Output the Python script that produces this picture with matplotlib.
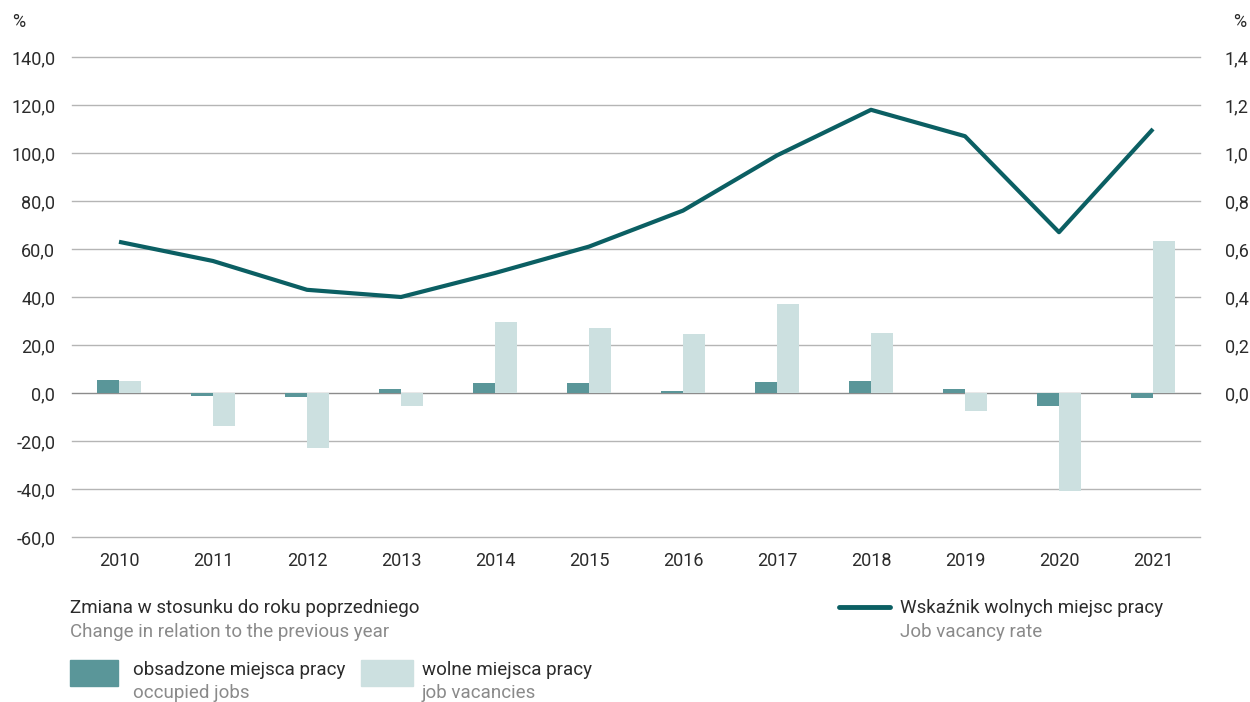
import matplotlib
matplotlib.use("Agg")
import matplotlib.pyplot as plt
from matplotlib.patches import Rectangle
from matplotlib.lines import Line2D
import numpy as np

years = ["2010", "2011", "2012", "2013", "2014", "2015", "2016", "2017", "2018", "2019", "2020", "2021"]
occupied = [5.3, -1.1, -1.8, 1.5, 4.2, 4.2, 0.8, 4.4, 5.0, 1.8, -5.4, -1.9]
vacancies = [4.9, -13.6, -22.9, -5.4, 29.6, 27.1, 24.6, 37.1, 25.0, -7.4, -41.0, 63.3]
vacancy_rate = [0.63, 0.55, 0.43, 0.40, 0.50, 0.61, 0.76, 0.99, 1.18, 1.07, 0.67, 1.10]

left_ticks = [140, 120, 100, 80, 60, 40, 20, 0, -20, -40, -60]
right_ticks = [1.4, 1.2, 1.0, 0.8, 0.6, 0.4, 0.2, 0.0]

C_OCC = "#5a9699"
C_VAC = "#cce0e0"
C_LINE = "#0b5f63"
C_TXT = "#2b2b2b"
C_GREY = "#8a8a8a"

plt.rcParams["font.family"] = ["Roboto", "DejaVu Sans"]

W, H = 1250, 702
fig = plt.figure(figsize=(12.5, 7.02), dpi=100)
ax = fig.add_axes([72 / W, 1 - 537 / H, (1200 - 72) / W, (537 - 57) / H])

x = np.arange(len(years))
bw = 0.23
ax.bar(x - bw / 2, occupied, bw, color=C_OCC, zorder=3)
ax.bar(x + bw / 2, vacancies, bw, color=C_VAC, zorder=3)

ax.set_ylim(-60, 140)
ax.set_xlim(-0.5, len(years) - 0.5)
ax.set_yticks(left_ticks)
ax.set_yticklabels([f"{v:.1f}".replace(".", ",") for v in left_ticks])
ax.set_xticks(x)
ax.set_xticklabels(years)
for v in left_ticks:
    ax.axhline(v, color="#b5b5b5" if v != 0 else "#8c8c8c", lw=1.0, zorder=1, clip_on=False)
for s in ax.spines.values():
    s.set_visible(False)
ax.tick_params(axis="y", length=0, pad=12, labelsize=13, labelcolor=C_TXT)
ax.tick_params(axis="x", length=0, pad=11, labelsize=13, labelcolor=C_TXT)

ax2 = ax.twinx()
ax2.set_ylim(-0.6, 1.4)
ax2.plot(x, vacancy_rate, color=C_LINE, lw=3, zorder=4, solid_capstyle="butt")
ax2.set_yticks(right_ticks)
ax2.set_yticklabels([f"{v:.1f}".replace(".", ",") for v in right_ticks])
for s in ax2.spines.values():
    s.set_visible(False)
ax2.tick_params(axis="y", length=0, pad=18, labelsize=13, labelcolor=C_TXT)

fig.text(12 / W, 1 - 22 / H, "%", fontsize=13, color=C_TXT, va="center", ha="left")
fig.text(1246 / W, 1 - 22 / H, "%", fontsize=13, color=C_TXT, va="center", ha="right")

FS = 13.5
# Legend (left block)
fig.text(70 / W, 1 - 608 / H, "Zmiana w stosunku do roku poprzedniego", fontsize=FS, color=C_TXT, va="center")
fig.text(70 / W, 1 - 632 / H, "Change in relation to the previous year", fontsize=FS, color=C_GREY, va="center")
fig.add_artist(Rectangle((70 / W, 1 - 686 / H), 48 / W, 26 / H, transform=fig.transFigure, color=C_OCC))
fig.text(133 / W, 1 - 670 / H, "obsadzone miejsca pracy", fontsize=FS, color=C_TXT, va="center")
fig.text(133 / W, 1 - 693 / H, "occupied jobs", fontsize=FS, color=C_GREY, va="center")
fig.add_artist(Rectangle((361 / W, 1 - 686 / H), 52 / W, 26 / H, transform=fig.transFigure, color=C_VAC))
fig.text(422 / W, 1 - 670 / H, "wolne miejsca pracy", fontsize=FS, color=C_TXT, va="center")
fig.text(422 / W, 1 - 693 / H, "job vacancies", fontsize=FS, color=C_GREY, va="center")

# Legend (right block)
fig.add_artist(Line2D([839 / W, 890 / W], [1 - 607 / H, 1 - 607 / H], transform=fig.transFigure,
                      color=C_LINE, lw=3.5, solid_capstyle="round"))
fig.text(900 / W, 1 - 608 / H, "Wskaźnik wolnych miejsc pracy", fontsize=FS, color=C_TXT, va="center")
fig.text(900 / W, 1 - 632 / H, "Job vacancy rate", fontsize=FS, color=C_GREY, va="center")

fig.savefig("out.png", dpi=100)
